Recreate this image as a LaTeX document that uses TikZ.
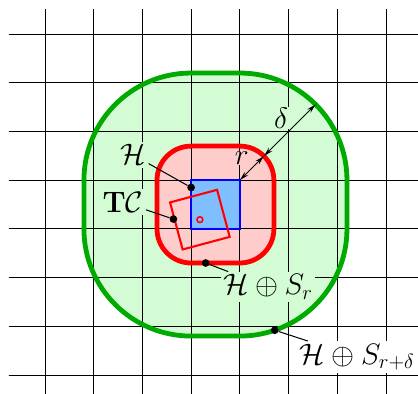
\documentclass[tikz,border=0pt]{standalone}
\usetikzlibrary{calc,arrows.meta}
\definecolor{zonegreen}{RGB}{212,252,212}
\definecolor{zonepink}{RGB}{255,204,204}
\definecolor{cellblue}{RGB}{128,191,255}
\definecolor{rimgreen}{RGB}{0,170,0}
\tikzset{
  lbl/.style={fill=zonegreen, inner sep=1.5pt, font=\LARGE},
  pindot/.style={circle, fill=black, inner sep=0pt, minimum size=4.5pt},
  leader/.style={line width=0.6pt},
}
\begin{document}
\begin{tikzpicture}[scale=1.0, >={Stealth[length=5.5pt,width=2.8pt]}]
\useasboundingbox (-3.923,-3.389) rectangle (4.658,4.699);
% filled zones
\fill[zonegreen, rounded corners=2.2cm] (-2.2,-2.2) rectangle (3.2,3.2);
\fill[zonepink, rounded corners=0.7cm] (-0.7,-0.7) rectangle (1.7,1.7);
\fill[cellblue] (0,0) rectangle (1,1);
% grid
\begin{scope}
  \clip (-3.74,-3.389) rectangle (4.658,4.494);
  \draw[line width=0.5pt] (-4,-4) grid (5,5);
\end{scope}
% outlines
\draw[rimgreen, line width=2.8pt, rounded corners=2.2cm] (-2.2,-2.2) rectangle (3.2,3.2);
\draw[red, line width=2.8pt, rounded corners=0.7cm] (-0.7,-0.7) rectangle (1.7,1.7);
\draw[blue, line width=1.5pt] (0,0) rectangle (1,1);
\node[draw=red, line width=1.2pt, minimum size=1cm, inner sep=0pt, rotate=15] (tc) at (0.18,0.19) {};
\draw[red, line width=0.9pt] (tc.center) circle (0.06);
% radii
\coordinate (corner) at (1,1);
\coordinate (redrim) at ($(corner)+(45:0.7)$);
\coordinate (greenrim) at ($(corner)+(45:2.2)$);
\node[lbl, fill=zonepink, inner sep=0.5pt] (rlab) at (1.04,1.46) {$r$};
\node[lbl, inner sep=0.5pt] (dlab) at (1.85,2.28) {$\delta$};
\draw[<->, leader] (corner) -- (redrim);
\draw[<->, leader] (redrim) -- (greenrim);
% labels
\node[pindot] (hdot) at (0,0.85) {};
\node[pindot] (tcdot) at ($(tc.north west)!0.354!(tc.south west)$) {};
\node[pindot] (srdot) at (0.3,-0.7) {};
\node[pindot] (srddot) at ($(1,0)+(-71:2.2)$) {};
\node[lbl] (hlab) at (-1.19,1.52) {$\mathcal{H}$};
\node[lbl] (tclab) at (-1.40,0.55) {$\mathbf{T}\mathcal{C}$};
\node[lbl] (srlab) at (1.58,-1.19) {$\mathcal{H}\oplus S_r$};
\node[lbl, fill=white] (srdlab) at (3.41,-2.63) {$\mathcal{H}\oplus S_{r+\delta}$};
\draw[leader] (hdot) -- (hlab);
\draw[leader] (tcdot) -- (tclab);
\draw[leader] (srdot) -- (srlab);
\draw[leader] (srddot) -- (srdlab);
\end{tikzpicture}
\end{document}
